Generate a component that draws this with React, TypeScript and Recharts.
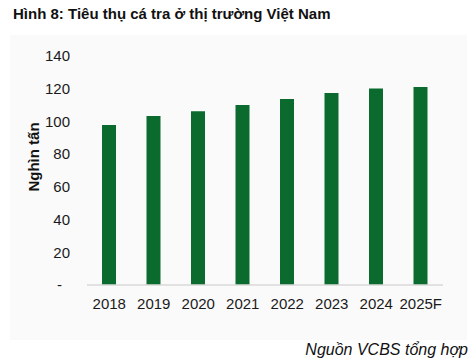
import { Bar, BarChart, XAxis, YAxis } from 'recharts'

const years = ['2018', '2019', '2020', '2021', '2022', '2023', '2024', '2025F']
const consumption = [97.8, 103.3, 106.2, 110, 113.7, 117.4, 120.2, 121]
const yTicks = [0, 20, 40, 60, 80, 100, 120, 140]

const data = years.map((year, i) => ({ year, value: consumption[i] }))

const FONT = 'Arial, "Liberation Sans", Helvetica, sans-serif'

// Excel kiểu kế toán: số 0 hiện là "-", lùi vào trong một chút
function YTick(props: any) {
	const { x, y, payload } = props
	const isZero = payload.value === 0
	return (
		<text
			x={isZero ? x - 8 : x}
			y={y}
			dy='0.35em'
			textAnchor='end'
			fontSize={15}
			fontFamily={FONT}
			fill='#1a1a1a'
		>
			{isZero ? '-' : payload.value}
		</text>
	)
}

export default function App() {
	return (
		<div
			style={{
				position: 'fixed',
				left: 0,
				top: 0,
				width: 476,
				height: 362,
				background: '#fff',
				fontFamily: FONT,
				overflow: 'hidden'
			}}
		>
			<div
				style={{
					position: 'absolute',
					left: 10,
					top: 35,
					width: 457,
					height: 305,
					background: '#fafafa'
				}}
			/>
			<div
				style={{
					position: 'absolute',
					left: 13,
					top: 5,
					fontSize: 15,
					fontWeight: 'bold',
					color: '#111',
					whiteSpace: 'nowrap'
				}}
			>
				Hình 8: Tiêu thụ cá tra ở thị trường Việt Nam
			</div>
			<div
				style={{
					position: 'absolute',
					left: 33,
					top: 157,
					transform: 'translate(-50%, -50%) rotate(-90deg)',
					fontSize: 15,
					fontWeight: 'bold',
					color: '#111',
					whiteSpace: 'nowrap'
				}}
			>
				Nghìn tấn
			</div>
			<div style={{ position: 'absolute', left: 0, top: 0 }}>
				<BarChart
					width={476}
					height={362}
					data={data}
					margin={{ top: 56, right: 33, bottom: 47, left: 40 }}
				>
					<YAxis
						width={47}
						domain={[0, 140]}
						ticks={yTicks}
						axisLine={false}
						tickLine={false}
						tickMargin={11}
						tick={<YTick />}
						interval={0}
					/>
					<XAxis
						dataKey='year'
						height={30}
						axisLine={{ stroke: '#d9d9d9', strokeWidth: 1.5 }}
						tickLine={false}
						tickMargin={7}
						interval={0}
						tick={{ fontSize: 15, fill: '#1a1a1a', fontFamily: FONT }}
					/>
					<Bar
						dataKey='value'
						fill='#0b6b2e'
						barSize={14}
						isAnimationActive={false}
					/>
				</BarChart>
			</div>
			<div
				style={{
					position: 'absolute',
					right: 8,
					top: 341,
					fontSize: 16,
					fontStyle: 'italic',
					color: '#111',
					whiteSpace: 'nowrap'
				}}
			>
				Nguồn VCBS tổng hợp
			</div>
		</div>
	)
}
